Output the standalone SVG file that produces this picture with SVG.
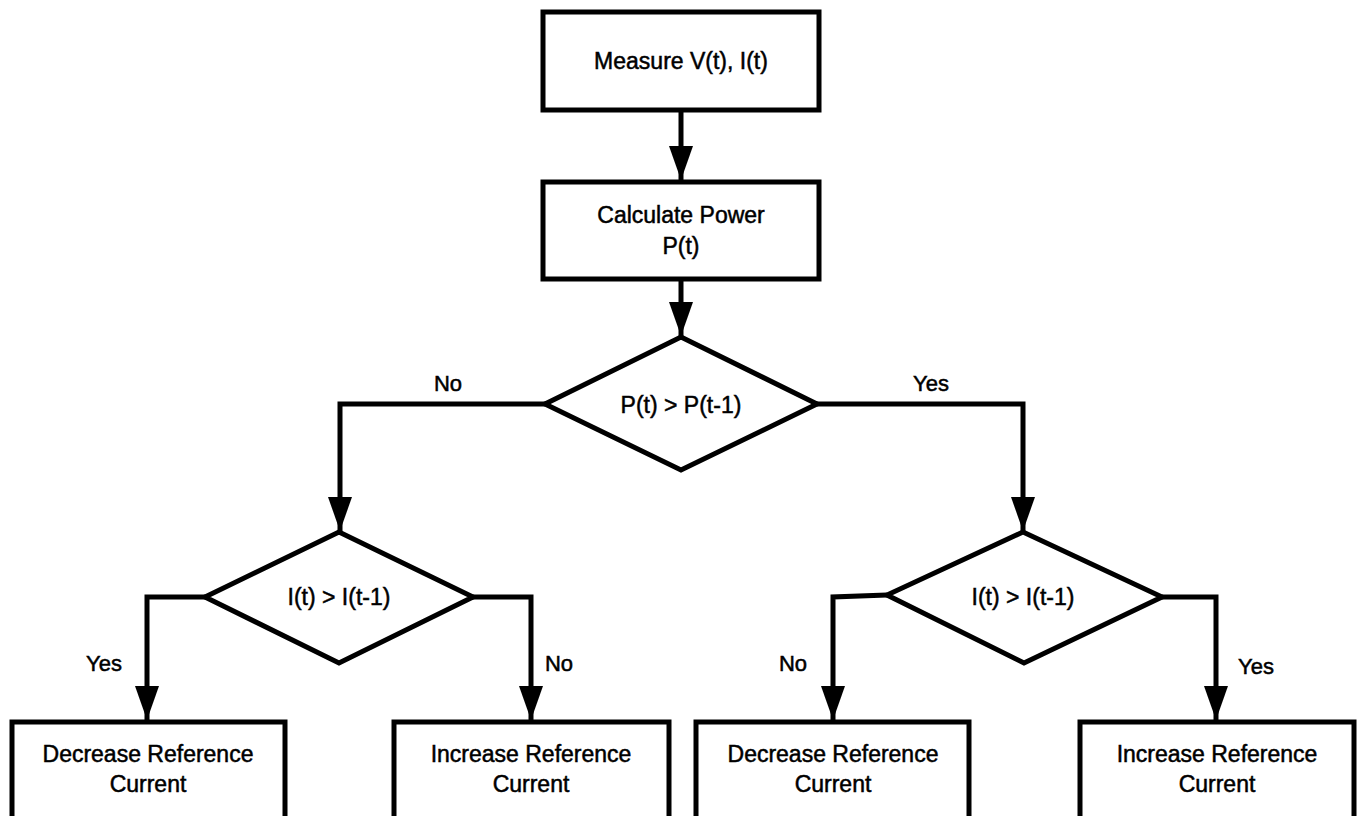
<svg xmlns="http://www.w3.org/2000/svg" width="1362" height="816" viewBox="0 0 1362 816">
<style>
.node{fill:#fff;stroke:#000;stroke-width:5;stroke-linejoin:miter}
.t{font-family:"Liberation Sans",Arial,sans-serif;font-size:23px;fill:#000;stroke:#000;stroke-width:0.5;text-anchor:middle}
.lbl{font-family:"Liberation Sans",Arial,sans-serif;font-size:22px;fill:#000;stroke:#000;stroke-width:0.5;text-anchor:middle}
.c{fill:none;stroke:#000;stroke-width:5;stroke-linejoin:miter}
</style>
<defs>
<marker id="ah" markerUnits="userSpaceOnUse" markerWidth="34" markerHeight="24" refX="34" refY="12" orient="auto">
<path d="M0,0 L34,12 L0,24 Z" fill="#000"/>
</marker>
</defs>
<rect width="1362" height="816" fill="#fff"/>
<g id="connectors">
<path class="c" d="M681,110 V180" marker-end="url(#ah)"/>
<path class="c" d="M681,279 V336" marker-end="url(#ah)"/>
<path class="c" d="M545,404 H340 V531" marker-end="url(#ah)"/>
<path class="c" d="M817,404 H1023 V531" marker-end="url(#ah)"/>
<path class="c" d="M205,597 H147 V720" marker-end="url(#ah)"/>
<path class="c" d="M473,597 H531 V720" marker-end="url(#ah)"/>
<path class="c" d="M887,595 L833,597 V720" marker-end="url(#ah)"/>
<path class="c" d="M1162,597 H1216 V720" marker-end="url(#ah)"/>
<text class="lbl" x="448" y="391">No</text>
<text class="lbl" x="931" y="391">Yes</text>
<text class="lbl" x="104" y="671">Yes</text>
<text class="lbl" x="559" y="671">No</text>
<text class="lbl" x="793" y="671">No</text>
<text class="lbl" x="1256" y="674">Yes</text>
</g>
<g id="measure">
<rect class="node" x="543" y="12" width="276" height="98"/>
<text class="t" x="681" y="69">Measure V(t), I(t)</text>
</g>
<g id="calc">
<rect class="node" x="543" y="182" width="276" height="97"/>
<text class="t" x="681" y="223">Calculate Power</text>
<text class="t" x="681" y="254">P(t)</text>
</g>
<g id="dec1">
<polygon class="node" points="681,337 817,404 681,470 545,404"/>
<text class="t" x="681" y="413">P(t) &gt; P(t-1)</text>
</g>
<g id="dec2">
<polygon class="node" points="339,532 473,597 339,663 205,597"/>
<text class="t" x="339" y="605">I(t) &gt; I(t-1)</text>
</g>
<g id="dec3">
<polygon class="node" points="1023,532 1162,597 1024,663 887,595"/>
<text class="t" x="1023" y="605">I(t) &gt; I(t-1)</text>
</g>
<g id="box1">
<rect class="node" x="12" y="722" width="273" height="110"/>
<text class="t" x="148" y="762">Decrease Reference</text>
<text class="t" x="148" y="792">Current</text>
</g>
<g id="box2">
<rect class="node" x="394" y="722" width="275" height="110"/>
<text class="t" x="531" y="762">Increase Reference</text>
<text class="t" x="531" y="792">Current</text>
</g>
<g id="box3">
<rect class="node" x="696" y="722" width="273" height="110"/>
<text class="t" x="833" y="762">Decrease Reference</text>
<text class="t" x="833" y="792">Current</text>
</g>
<g id="box4">
<rect class="node" x="1080" y="722" width="274" height="110"/>
<text class="t" x="1217" y="762">Increase Reference</text>
<text class="t" x="1217" y="792">Current</text>
</g>
</svg>
